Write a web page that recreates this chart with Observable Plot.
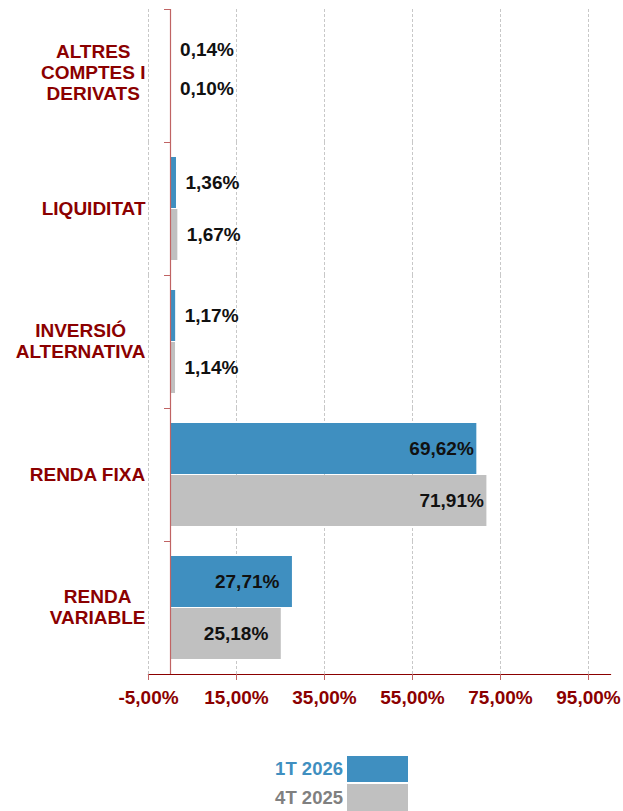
<!DOCTYPE html>
<html>
<head>
<meta charset="utf-8">
<script src="https://cdn.jsdelivr.net/npm/d3@7"></script>
<script src="https://cdn.jsdelivr.net/npm/@observablehq/plot@0.6"></script>
<style>
  html, body { margin: 0; padding: 0; background: #fff; }
  #chart { width: 623px; }
  .legend { margin-top: 16px; font-family: 'Liberation Sans', Arial, sans-serif; font-weight: bold; font-size: 18.5px; }
  .legend .row { display: flex; align-items: center; }
  .legend .lab { width: 347px; text-align: right; padding-right: 4px; box-sizing: border-box; }
  .legend .sw { width: 61px; }
  #chart svg text { font-family: 'Liberation Sans', Arial, sans-serif; font-weight: bold; font-variant: normal; }
</style>
</head>
<body>
<div id="chart"></div>
<div class="legend" id="legend"></div>
<script>
const categories = ["ALTRES COMPTES I DERIVATS", "LIQUIDITAT", "INVERSIÓ ALTERNATIVA", "RENDA FIXA", "RENDA VARIABLE"];
const categoryLabels = ["ALTRES\nCOMPTES I\nDERIVATS", "LIQUIDITAT", "INVERSIÓ\nALTERNATIVA", "RENDA FIXA", "RENDA\nVARIABLE"];
const series = ["1T 2026", "4T 2025"];
const values1T2026 = [0.14, 1.36, 1.17, 69.62, 27.71];
const values4T2025 = [0.10, 1.67, 1.14, 71.91, 25.18];
const xTicks = [-5, 15, 35, 55, 75, 95];
const seriesColors = ["#3f8fc0", "#c0c0c0"];
const legendTextColors = ["#3f8fc0", "#808080"];

const data = [];
categories.forEach((c, i) => {
  data.push({cat: c, series: series[0], value: values1T2026[i]});
  data.push({cat: c, series: series[1], value: values4T2025[i]});
});

const fmt = v => v.toFixed(2).replace(".", ",") + "%";
const labelOf = new Map(categories.map((c, i) => [c, categoryLabels[i]]));

const width = 623, height = 740;
const marginLeft = 148, marginRight = 13, marginTop = 7, marginBottom = 64;
const xDomain = [-5, 100];
const px = v => marginLeft + (v - xDomain[0]) / (xDomain[1] - xDomain[0]) * (width - marginLeft - marginRight);
const zeroPx = px(0);

const darkRed = "#8b0000";
const lightRed = "#c06464";
const fontFamily = "'Liberation Sans', Arial, sans-serif";
const labelFontSize = 19;

// measure category label widths to center lines within a right-aligned block
const ctx = document.createElement("canvas").getContext("2d");
ctx.font = `bold ${labelFontSize}px ${fontFamily}`;
const blockRight = marginLeft - 3;
const fyAxes = categories.map((c, i) => {
  const maxW = d3.max(categoryLabels[i].split("\n"), l => ctx.measureText(l).width);
  return Plot.axisFy({
    anchor: "left", ticks: [c], tickFormat: cc => labelOf.get(cc),
    tickSize: 0, tickPadding: 0, textAnchor: "middle",
    dx: (blockRight - maxW / 2) - marginLeft, dy: i === 0 ? -4 : -1,
    lineHeight: 1.1, fill: darkRed, fontSize: labelFontSize, fontFamily, fontWeight: "bold", label: null
  });
});

const isAltresGray = d => d.cat === categories[0] && d.series === series[1];

const chart = Plot.plot({
  width, height, marginLeft, marginRight, marginTop, marginBottom,
  style: {fontFamily, fontSize: "19px", fontWeight: "bold", background: "#fff"},
  x: {domain: xDomain},
  y: {domain: series, axis: null, paddingInner: 0.02, paddingOuter: 0.27},
  fy: {domain: categories, padding: 0},
  color: {domain: series, range: seriesColors},
  marks: [
    Plot.gridX(xTicks, {stroke: "#c8c8c8", strokeOpacity: 1, strokeDasharray: "3,2"}),
    Plot.barX(data, {fy: "cat", y: "series", x: "value", fill: "series"}),
    Plot.ruleX([0], {stroke: lightRed, strokeWidth: 1.2}),
    Plot.frame({anchor: "top", stroke: lightRed, insetLeft: zeroPx - 6 - marginLeft, insetRight: width - marginRight - zeroPx}),
    Plot.frame({anchor: "bottom", facet: "super", stroke: darkRed, strokeWidth: 1.2}),
    Plot.text(data, {filter: d => d.value < 10 && !isAltresGray(d), fy: "cat", y: "series", x: "value", text: d => fmt(d.value), textAnchor: "start", dx: 9, fill: "#111", fontSize: 19}),
    Plot.text(data, {filter: d => isAltresGray(d), fy: "cat", y: "series", x: "value", text: d => fmt(d.value), textAnchor: "start", dx: 9, dy: -13, fill: "#111", fontSize: 19}),
    Plot.text(data, {filter: d => d.value >= 50, fy: "cat", y: "series", x: "value", text: d => fmt(d.value), textAnchor: "end", dx: -3, fill: "#111", fontSize: 19}),
    Plot.text(data, {filter: d => d.value >= 10 && d.value < 50, fy: "cat", y: "series", x: "value", text: d => fmt(d.value), textAnchor: "end", dx: -13, fill: "#111", fontSize: 19}),
    Plot.axisX({ticks: xTicks, tickFormat: fmt, tickSize: 6, tickPadding: 10, stroke: lightRed, fill: darkRed, fontSize: 19, fontFamily, fontWeight: "bold", label: null}),
    ...fyAxes
  ]
});
document.getElementById("chart").appendChild(chart);

const legend = document.getElementById("legend");
series.forEach((s, i) => {
  const row = document.createElement("div");
  row.className = "row";
  row.style.marginBottom = i === 0 ? "2px" : "0";
  const lab = document.createElement("div");
  lab.className = "lab";
  lab.textContent = s;
  lab.style.color = legendTextColors[i];
  const sw = document.createElement("div");
  sw.className = "sw";
  sw.style.background = seriesColors[i];
  sw.style.height = i === 0 ? "26px" : "27px";
  row.appendChild(lab);
  row.appendChild(sw);
  legend.appendChild(row);
});
</script>
</body>
</html>
